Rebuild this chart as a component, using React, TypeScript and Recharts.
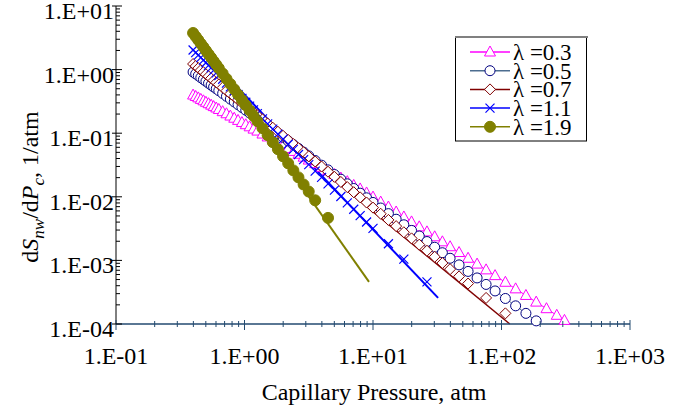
import { ComposedChart, Line, XAxis, YAxis } from "recharts";

// capillary pressure (atm) at each marker, shared by all five curves
const pressure = [
  0.398, 0.417, 0.437, 0.457, 0.479, 0.501, 0.525, 0.55, 0.575, 0.603, 0.631,
  0.676, 0.724, 0.776, 0.832, 0.891, 0.955, 1.023, 1.096, 1.175, 1.259,
  1.38, 1.514, 1.66, 1.82, 1.995, 2.188, 2.399, 2.63, 2.884, 3.162,
  3.548, 3.981, 4.467, 5.012, 5.623, 6.31, 7.079, 7.943, 8.913, 10.0,
  11.48, 13.18, 15.14, 17.38, 19.95, 22.91, 26.3, 30.2, 34.67, 39.81,
  46.77, 54.95, 64.57, 75.86, 89.13,
  107.2, 128.8, 154.9, 186.2, 223.9,
  269.2, 309.0,
];

// dSnw/dPc (1/atm); null = no marker at that pressure
const dS_l03 = [
  0.398, 0.378, 0.359, 0.34, 0.323, 0.306, 0.291, 0.276, 0.262, 0.249, 0.236,
  0.218, 0.202, 0.186, 0.172, 0.159, 0.147, 0.136, 0.126, 0.116, 0.108,
  0.097, 0.0873, 0.0787, 0.0708, 0.0638, 0.0575, 0.0517, 0.0466, 0.042, 0.0378,
  0.0332, 0.0291, 0.0255, 0.0224, 0.0197, 0.0173, 0.0151, 0.0133, 0.01149, 0.00989,
  0.00826, 0.00691, 0.00577, 0.00482, 0.00403, 0.00337, 0.00281, 0.00235, 0.00196, 0.00164,
  0.00133, 0.00108, 8.75e-4, 7.1e-4, 5.76e-4,
  4.53e-4, 3.57e-4, 2.81e-4, 2.21e-4, 1.74e-4,
  1.37e-4, 1.14e-4,
];
const dS_l05 = [
  0.916, 0.856, 0.801, 0.748, 0.7, 0.654, 0.611, 0.571, 0.534, 0.499, 0.467,
  0.422, 0.381, 0.344, 0.311, 0.281, 0.254, 0.23, 0.208, 0.188, 0.17,
  0.148, 0.13, 0.113, 0.0989, 0.0864, 0.0755, 0.066, 0.0576, 0.0504, 0.044,
  0.0372, 0.0314, 0.0265, 0.0224, 0.0189, 0.016, 0.0135, 0.0114, 0.00964, 0.00815,
  0.00666, 0.00544, 0.00444, 0.00363, 0.00296, 0.00242, 0.00198, 0.00161, 0.00132, 0.00108,
  8.5e-4, 6.71e-4, 5.3e-4, 4.19e-4, 3.31e-4,
  2.52e-4, 1.93e-4, 1.47e-4, 1.12e-4,
];
const dS_l07 = [
  1.225, 1.137, 1.056, 0.98, 0.91, 0.845, 0.784, 0.728, 0.676, 0.628, 0.583,
  0.521, 0.466, 0.417, 0.373, 0.334, 0.299, 0.267, 0.239, 0.214, 0.191,
  0.165, 0.142, 0.122, 0.1055, 0.091, 0.0784, 0.0676, 0.0582, 0.0502, 0.0433,
  0.0359, 0.0299, 0.0248, 0.0206, 0.0171, 0.0142, 0.0118, 0.0098, 0.00813, 0.00676,
  0.00541, 0.00433, 0.00346, 0.00277, 0.00222, 0.00177, 0.00142, 0.00114, 9.09e-4, 7.28e-4,
  5.61e-4, 4.33e-4, null, 2.57e-4, null,
  1.47e-4,
];
const dS_l11 = [
  2.032, 1.853, 1.69, 1.541, 1.406, 1.281, 1.168, 1.066, 0.972, 0.886, 0.808,
  0.704, 0.613, 0.534, 0.465, 0.405, 0.352, 0.307, 0.267, 0.233, 0.203,
  0.168, 0.14, 0.116, 0.0968, 0.0805, 0.067, 0.0557, 0.0463, 0.0385, 0.032,
  0.0254, 0.0202, 0.016, 0.0127, 0.0101, 0.00802, 0.00637, 0.00506, 0.00402, 0.00319,
  null, 0.00183, null, 0.00105, null, null, 4.6e-4,
];
const dS_l19 = [
  3.763, 3.313, 2.916, 2.567, 2.259, 1.989, 1.751, 1.541, 1.357, 1.194, 1.051,
  0.868, 0.717, 0.592, 0.489, 0.404, 0.334, 0.276, 0.228, 0.188, 0.155,
  0.12, 0.0932, 0.0722, 0.056, 0.0434, 0.0336, 0.026, 0.0202, 0.0156, 0.0121,
  0.00881, null, 0.00466,
];

// straight model lines drawn with the markers (start and end point)
const lineP_l07 = [0.4, 116];
const lineY_l07 = [1.22, 1.0e-4];
const lineP_l11 = [0.4, 32.1];
const lineY_l11 = [2.82, 2.58e-4];
const lineP_l19 = [0.4, 9.31];
const lineY_l19 = [3.76, 4.6e-4];

const lambdas = ["0.3", "0.5", "0.7", "1.1", "1.9"];

const xMajor = [0.1, 1, 10, 100, 1000];
const xLabels = ["1.E-01", "1.E+00", "1.E+01", "1.E+02", "1.E+03"];
const yMajor = [1e-4, 1e-3, 1e-2, 1e-1, 1, 10];
const yLabels = ["1.E-04", "1.E-03", "1.E-02", "1.E-01", "1.E+00", "1.E+01"];

const minorOf = (majors: number[]) =>
  majors.slice(0, -1).flatMap((m) => [2, 3, 4, 5, 6, 7, 8, 9].map((k) => +(m * k).toPrecision(3)));
const xTicks = [...xMajor, ...minorOf(xMajor)];
const yTicks = [...yMajor, ...minorOf(yMajor)];

const rows = (ys: (number | null)[]) => ys.map((y, i) => ({ x: pressure[i], y }));
const pairs = (xs: number[], ys: number[]) => xs.map((x, i) => ({ x, y: ys[i] }));

const FONT = "'Liberation Serif', 'Times New Roman', serif";
const AXIS_BLUE = "#234a70";
const MAGENTA = "#ff00ff";
const NAVY = "#000080";
const NAVY_LINE = "#4d6d8f";
const MAROON = "#800000";
const BLUE = "#0000ff";
const OLIVE = "#808000";

const triangle = (cx: number, cy: number, k?: any) => (
  <path key={k} d={`M${cx},${cy - 6}L${cx + 5.5},${cy + 4}L${cx - 5.5},${cy + 4}Z`} fill="#fff" stroke={MAGENTA} strokeWidth={1} />
);
const ring = (cx: number, cy: number, k?: any) => (
  <circle key={k} cx={cx} cy={cy} r={5} fill="#fff" stroke={NAVY} strokeWidth={1} />
);
const diamond = (cx: number, cy: number, k?: any) => (
  <path key={k} d={`M${cx},${cy - 5.5}L${cx + 5.5},${cy}L${cx},${cy + 5.5}L${cx - 5.5},${cy}Z`} fill="#fff" stroke={MAROON} strokeWidth={1} />
);
const cross = (cx: number, cy: number, k?: any) => (
  <path key={k} d={`M${cx - 4.5},${cy - 4.5}L${cx + 4.5},${cy + 4.5}M${cx + 4.5},${cy - 4.5}L${cx - 4.5},${cy + 4.5}`} stroke={BLUE} strokeWidth={1.2} fill="none" />
);
const blob = (cx: number, cy: number, k?: any) => (
  <circle key={k} cx={cx} cy={cy} r={5.5} fill={OLIVE} stroke={OLIVE} strokeWidth={1} />
);

const dotOf = (shape: (cx: number, cy: number, k?: any) => JSX.Element) => (p: any) => {
  if (p.cx == null || p.cy == null || p.value == null) return <g key={p.key ?? p.index} />;
  return shape(p.cx, p.cy, p.key ?? p.index);
};

function XTick({ x, y, payload }: any) {
  const i = xMajor.indexOf(payload.value);
  const major = i >= 0;
  return (
    <g>
      <line x1={x} x2={x} y1={major ? y - 4 : y - 3} y2={major ? y + 6 : y + 3} stroke={AXIS_BLUE} strokeWidth={1} />
      {major && (
        <text x={x} y={y + 40} textAnchor="middle" fontFamily={FONT} fontSize={24} fill="#000">
          {xLabels[i]}
        </text>
      )}
    </g>
  );
}

function YTick({ x, y, payload }: any) {
  const i = yMajor.indexOf(payload.value);
  const major = i >= 0;
  return (
    <g>
      <line x1={major ? x - 4 : x} x2={major ? x + 6 : x + 4} y1={y} y2={y} stroke="#000" strokeWidth={1} />
      {major && (
        <text x={x - 2} y={y + 13} textAnchor="end" fontFamily={FONT} fontSize={24} fill="#000">
          {yLabels[i]}
        </text>
      )}
    </g>
  );
}

function YTitle() {
  return (
    <text transform="rotate(-90, 38, 187)" x={38} y={187} textAnchor="middle" fontFamily={FONT} fontSize={24} fill="#000">
      <tspan>d</tspan>
      <tspan fontStyle="italic">S</tspan>
      <tspan fontStyle="italic" fontSize={17} dy={6}>nw</tspan>
      <tspan dy={-6}>/d</tspan>
      <tspan fontStyle="italic">P</tspan>
      <tspan fontStyle="italic" fontSize={17} dy={6}>c</tspan>
      <tspan dy={-6}>, 1/atm</tspan>
    </text>
  );
}

function XTitle() {
  return (
    <text x={374} y={400} textAnchor="middle" fontFamily={FONT} fontSize={24} fill="#000">
      Capillary Pressure, atm
    </text>
  );
}

const legendShapes = [triangle, ring, diamond, cross, blob];
const legendLines = [MAGENTA, NAVY_LINE, MAROON, BLUE, OLIVE];

function LegendBox() {
  return (
    <svg width={133} height={106} style={{ position: "absolute", left: 455, top: 36 }}>
      <rect x={0.5} y={1} width={131} height={104} fill="#fff" stroke="#000" strokeWidth={1} />
      <line x1={0} x2={133} y1={1} y2={1} stroke="#808080" strokeWidth={2} />
      {lambdas.map((l, i) => {
        const cy = 16 + i * 18.7;
        return (
          <g key={l}>
            <line x1={15} x2={55} y1={cy} y2={cy} stroke={legendLines[i]} strokeWidth={1.5} />
            {legendShapes[i](35, cy)}
            <text x={58} y={cy + 8} fontFamily={FONT} fontSize={23} fill="#000">
              {`λ =${l}`}
            </text>
          </g>
        );
      })}
    </svg>
  );
}

export default function App() {
  return (
    <div style={{ position: "absolute", left: 0, top: 0, width: 673, height: 409, background: "#fff" }}>
      <ComposedChart width={673} height={409} margin={{ top: 6, right: 43, bottom: 0, left: 0 }}>
        <XAxis
          type="number"
          dataKey="x"
          scale="log"
          domain={[0.1, 1000]}
          ticks={xTicks}
          interval={0}
          height={85}
          tickSize={0}
          tickMargin={0}
          tickLine={false}
          tick={<XTick />}
          axisLine={{ stroke: AXIS_BLUE, strokeWidth: 1.5 }}
          label={<XTitle />}
        />
        <XAxis xAxisId="top" orientation="top" type="number" scale="log" domain={[0.1, 1000]} height={0} tick={false} tickLine={false} axisLine={{ stroke: "#999", strokeWidth: 1.5 }} />
        <YAxis
          type="number"
          scale="log"
          domain={[1e-4, 10]}
          ticks={yTicks}
          interval={0}
          width={116}
          tickSize={0}
          tickMargin={0}
          tickLine={false}
          tick={<YTick />}
          axisLine={{ stroke: "#000", strokeWidth: 1 }}
          label={<YTitle />}
        />
        <YAxis yAxisId="right" orientation="right" type="number" scale="log" domain={[1e-4, 10]} width={0} tick={false} tickLine={false} axisLine={{ stroke: "#999", strokeWidth: 1.5 }} />

        <Line data={rows(dS_l03)} dataKey="y" type="linear" stroke={MAGENTA} strokeWidth={1} dot={dotOf(triangle)} activeDot={false} isAnimationActive={false} />
        <Line data={rows(dS_l05)} dataKey="y" type="linear" stroke={NAVY_LINE} strokeWidth={1} dot={dotOf(ring)} activeDot={false} isAnimationActive={false} />
        <Line data={rows(dS_l07)} dataKey="y" type="linear" stroke="none" dot={dotOf(diamond)} activeDot={false} isAnimationActive={false} />
        <Line data={pairs(lineP_l07, lineY_l07)} dataKey="y" type="linear" stroke={MAROON} strokeWidth={1.5} dot={false} activeDot={false} isAnimationActive={false} />
        <Line data={rows(dS_l11)} dataKey="y" type="linear" stroke="none" dot={dotOf(cross)} activeDot={false} isAnimationActive={false} />
        <Line data={pairs(lineP_l11, lineY_l11)} dataKey="y" type="linear" stroke={BLUE} strokeWidth={2} dot={false} activeDot={false} isAnimationActive={false} />
        <Line data={pairs(lineP_l19, lineY_l19)} dataKey="y" type="linear" stroke={OLIVE} strokeWidth={2} dot={false} activeDot={false} isAnimationActive={false} />
        <Line data={rows(dS_l19)} dataKey="y" type="linear" stroke="none" dot={dotOf(blob)} activeDot={false} isAnimationActive={false} />
      </ComposedChart>
      <LegendBox />
    </div>
  );
}
